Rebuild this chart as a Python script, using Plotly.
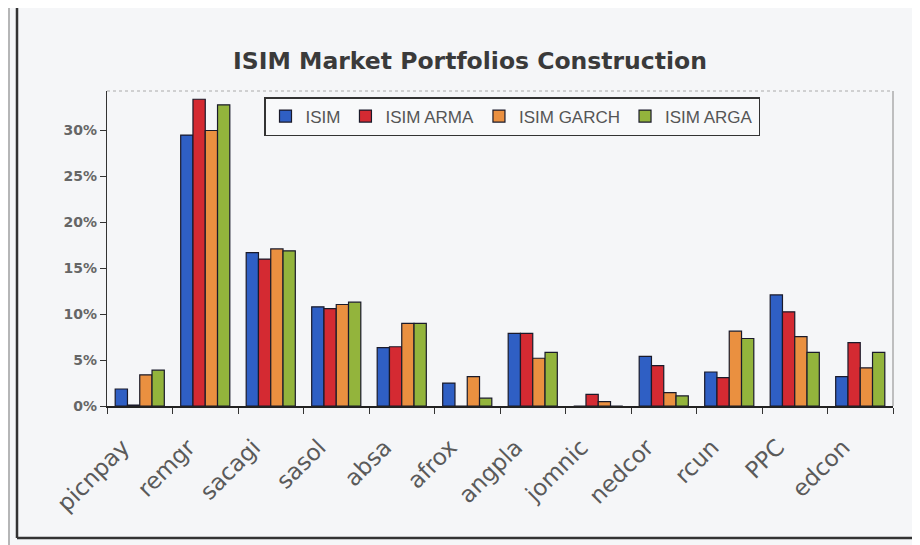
import plotly.graph_objects as go

categories = ["picnpay", "remgr", "sacagi", "sasol", "absa", "afrox", "angpla",
              "jomnic", "nedcor", "rcun", "PPC", "edcon"]
isim = [0.0185, 0.295, 0.167, 0.108, 0.0635, 0.025, 0.079, 0.0, 0.054, 0.037, 0.121, 0.032]
isim_arma = [0.001, 0.334, 0.160, 0.106, 0.0645, 0.0, 0.079, 0.0127, 0.044, 0.031, 0.1025, 0.069]
isim_garch = [0.034, 0.300, 0.171, 0.1105, 0.090, 0.032, 0.052, 0.0047, 0.0145, 0.0815, 0.0755, 0.0415]
isim_arga = [0.039, 0.328, 0.169, 0.113, 0.090, 0.0085, 0.0585, 0.0, 0.011, 0.0735, 0.0585, 0.0585]
series_names = ["ISIM", "ISIM ARMA", "ISIM GARCH", "ISIM ARGA"]
colors = ["#2f5fc4", "#d42a32", "#ea9040", "#93b43c"]
y_ticks = [0, 0.05, 0.10, 0.15, 0.20, 0.25, 0.30]
y_tick_labels = ["0%", "5%", "10%", "15%", "20%", "25%", "30%"]

# page offset of 8px (body margin) is compensated in margins
PW, PH = 786, 315  # plot area size in px


def px(xp):
    return (xp - 107) / PW


def py(yp):
    return (406 - yp) / PH


fig = go.Figure()
for name, vals, col in zip(series_names, [isim, isim_arma, isim_garch, isim_arga], colors):
    fig.add_trace(go.Bar(x=categories, y=vals, name=name,
                         marker=dict(color=col, line=dict(color="#1a1a2a", width=1.2))))

fig.update_layout(
    width=912, height=537,
    barmode="group", bargap=0.25, bargroupgap=0,
    paper_bgcolor="#f5f6f8", plot_bgcolor="#f5f6f8",
    margin=dict(l=99, r=27, t=83, b=139, autoexpand=False),
    title=dict(text="<b>ISIM Market Portfolios Construction</b>", x=(470 - 8) / 912, xanchor="center",
               y=1 - (61 - 8) / 537, yanchor="middle",
               font=dict(family="DejaVu Sans", size=23.5, color="#3a3a3a")),
    legend=dict(orientation="h", x=px(512), xanchor="center", y=py(97), yanchor="top",
                bgcolor="#f8f9fa", bordercolor="#333333", borderwidth=1.5,
                font=dict(family="Liberation Sans", size=17, color="#555555"),
                itemwidth=30, tracegroupgap=0),
    showlegend=True,
    xaxis=dict(showline=True, linecolor="#222222", linewidth=1.5, ticks="outside",
               tickson="boundaries", ticklen=6, tickcolor="#333333", tickangle=-45,
               ticklabelstandoff=17, ticklabelshift=-17,
               tickfont=dict(family="DejaVu Sans", size=23, color="#5a5a5a"),
               showgrid=False),
    yaxis=dict(range=[0, 0.343], tickvals=y_ticks, ticktext=y_tick_labels,
               showline=True, linecolor="#333333", linewidth=1.2, ticks="outside", ticklen=6,
               tickcolor="#333333",
               tickfont=dict(family="DejaVu Sans", size=14, color="#666666", weight="bold"),
               showgrid=False, zeroline=False),
    shapes=[
        dict(type="line", xref="paper", yref="paper", x0=0, x1=1, y0=1, y1=1,
             line=dict(color="#aaaaaa", width=1, dash="dot")),
        dict(type="line", xref="paper", yref="paper", x0=1, x1=1, y0=0, y1=1,
             line=dict(color="#999999", width=1.2)),
        dict(type="line", xref="paper", yref="paper", x0=px(17), x1=px(17), y0=py(538), y1=py(8),
             line=dict(color="#333333", width=2.5)),
        dict(type="line", xref="paper", yref="paper", x0=px(9), x1=px(9), y0=py(545), y1=py(8),
             line=dict(color="#777777", width=1)),
        dict(type="line", xref="paper", yref="paper", x0=px(17), x1=px(912), y0=py(538), y1=py(538),
             line=dict(color="#333333", width=2.5)),
        dict(type="line", xref="paper", yref="paper", x0=px(725), x1=px(905), y0=py(7), y1=py(7),
             line=dict(color="#777777", width=1.5)),
    ],
)

fig.write_html("out.html")
